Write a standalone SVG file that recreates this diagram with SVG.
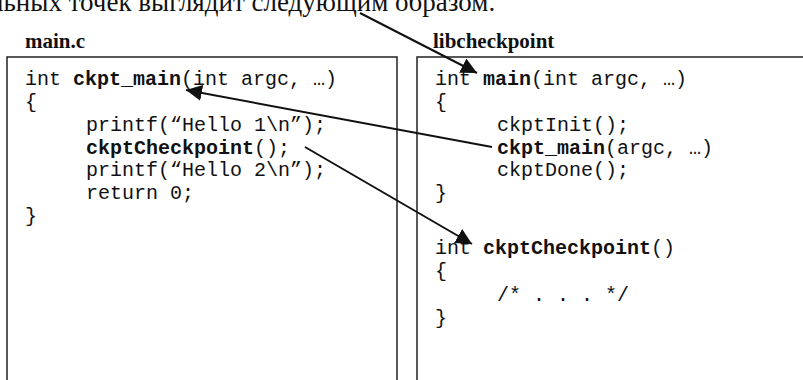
<svg xmlns="http://www.w3.org/2000/svg" width="803" height="380" viewBox="0 0 803 380">
<style>
.code{font-family:"Liberation Mono","Courier New",monospace;font-size:20px;fill:#111;}
.b{font-weight:bold;}
.title{font-family:"Liberation Serif","Times New Roman",serif;font-size:21px;font-weight:bold;fill:#111;}
.top{font-family:"Liberation Serif","Times New Roman",serif;font-size:27px;fill:#111;}
.box{fill:none;stroke:#222;stroke-width:1.5;}
.arrow{fill:none;stroke:#111;stroke-width:2;marker-end:url(#ah);}
</style>
<defs>
<marker id="ah" viewBox="0 0 16 16" refX="16" refY="8" markerWidth="16" markerHeight="16" markerUnits="userSpaceOnUse" orient="auto">
<path d="M0,0 L16,8 L0,16 Z" fill="#111"/>
</marker>
</defs>
<rect width="803" height="380" fill="#fff"/>
<text class="top" x="-10" y="11">льных точек выглядит следующим образом.</text>

<g id="main_c">
<text class="title" x="25" y="48">main.c</text>
<rect class="box" x="7" y="57" width="390" height="340"/>
<text class="code" x="25" y="85">int <tspan class="b">ckpt_main</tspan>(int argc, …)</text>
<text class="code" x="25" y="108">{</text>
<text class="code" x="86" y="131">printf(“Hello 1\n”);</text>
<text class="code" x="86" y="154"><tspan class="b">ckptCheckpoint</tspan>();</text>
<text class="code" x="86" y="176">printf(“Hello 2\n”);</text>
<text class="code" x="86" y="199">return 0;</text>
<text class="code" x="25" y="222">}</text>
</g>

<g id="libcheckpoint">
<text class="title" x="433" y="48">libcheckpoint</text>
<rect class="box" x="417" y="57" width="400" height="340"/>
<text class="code" x="435" y="85">int <tspan class="b">main</tspan>(int argc, …)</text>
<text class="code" x="435" y="108">{</text>
<text class="code" x="497" y="131">ckptInit();</text>
<text class="code" x="497" y="154"><tspan class="b">ckpt_main</tspan>(argc, …)</text>
<text class="code" x="497" y="176">ckptDone();</text>
<text class="code" x="435" y="199">}</text>
<text class="code" x="435" y="254">int <tspan class="b">ckptCheckpoint</tspan>()</text>
<text class="code" x="435" y="277">{</text>
<text class="code" x="497" y="301">/* . . . */</text>
<text class="code" x="435" y="324">}</text>
</g>

<g id="connectors">
<line class="arrow" x1="360" y1="13" x2="477" y2="73"/>
<line class="arrow" x1="492" y1="147" x2="186" y2="90"/>
<line class="arrow" x1="305" y1="147" x2="472" y2="244"/>
</g>
</svg>
